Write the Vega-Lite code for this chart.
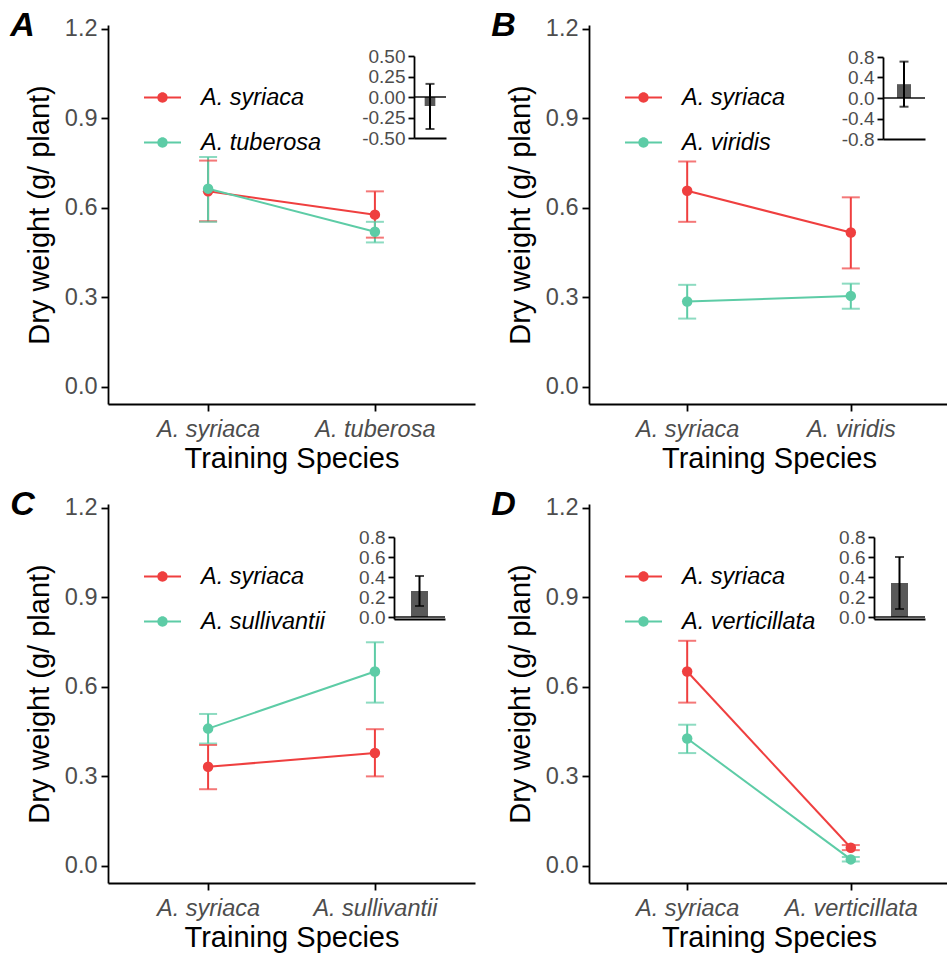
{
  "$schema": "https://vega.github.io/schema/vega-lite/v6.json",
  "background": "white",
  "padding": {"left": 10, "top": 8, "right": 0, "bottom": 0},
  "bounds": "flush",
  "columns": 2,
  "spacing": {"row": 100, "column": 114},
  "resolve": {"scale": {"color": "independent"}, "legend": {"color": "independent"}},
  "config": {
    "font": "Liberation Sans",
    "view": {"stroke": null},
    "axis": {"grid": false, "domainColor": "black", "domainWidth": 1.8, "tickColor": "black", "tickWidth": 1.8, "labelColor": "#4D4D4D", "titleColor": "black", "titleFontWeight": "normal", "labelFont": "Liberation Sans", "titleFont": "Liberation Sans"},
    "title": {"font": "Liberation Sans", "fontSize": 34, "fontWeight": "bold", "fontStyle": "italic", "color": "black", "anchor": "start", "frame": "bounds", "dx": -15, "offset": -26}
  },
  "datasets": {
    "mainA": [
      {"training": "A. syriaca", "species": "A. syriaca", "mean": 0.655, "lo": 0.555, "hi": 0.758},
      {"training": "A. syriaca", "species": "A. tuberosa", "mean": 0.664, "lo": 0.553, "hi": 0.770},
      {"training": "A. tuberosa", "species": "A. syriaca", "mean": 0.577, "lo": 0.500, "hi": 0.655},
      {"training": "A. tuberosa", "species": "A. tuberosa", "mean": 0.520, "lo": 0.484, "hi": 0.553}
    ],
    "mainB": [
      {"training": "A. syriaca", "species": "A. syriaca", "mean": 0.657, "lo": 0.553, "hi": 0.755},
      {"training": "A. syriaca", "species": "A. viridis", "mean": 0.286, "lo": 0.229, "hi": 0.342},
      {"training": "A. viridis", "species": "A. syriaca", "mean": 0.517, "lo": 0.397, "hi": 0.635},
      {"training": "A. viridis", "species": "A. viridis", "mean": 0.305, "lo": 0.262, "hi": 0.346}
    ],
    "mainC": [
      {"training": "A. syriaca", "species": "A. syriaca", "mean": 0.332, "lo": 0.257, "hi": 0.405},
      {"training": "A. syriaca", "species": "A. sullivantii", "mean": 0.460, "lo": 0.410, "hi": 0.509},
      {"training": "A. sullivantii", "species": "A. syriaca", "mean": 0.378, "lo": 0.300, "hi": 0.458},
      {"training": "A. sullivantii", "species": "A. sullivantii", "mean": 0.651, "lo": 0.547, "hi": 0.749}
    ],
    "mainD": [
      {"training": "A. syriaca", "species": "A. syriaca", "mean": 0.651, "lo": 0.547, "hi": 0.754},
      {"training": "A. syriaca", "species": "A. verticillata", "mean": 0.427, "lo": 0.378, "hi": 0.473},
      {"training": "A. verticillata", "species": "A. syriaca", "mean": 0.061, "lo": 0.053, "hi": 0.070},
      {"training": "A. verticillata", "species": "A. verticillata", "mean": 0.022, "lo": 0.015, "hi": 0.030}
    ],
    "insetA": [{"grp": "diff", "diff": -0.11, "lo": -0.39, "hi": 0.16}],
    "insetB": [{"grp": "diff", "diff": 0.27, "lo": -0.17, "hi": 0.71}],
    "insetC": [{"grp": "diff", "diff": 0.26, "lo": 0.11, "hi": 0.41}],
    "insetD": [{"grp": "diff", "diff": 0.34, "lo": 0.08, "hi": 0.60}]
  },
  "concat": [
    {
      "width": 367, "height": 379,
      "title": {"text": "A"},
      "resolve": {"scale": {"x": "independent", "y": "independent"}, "axis": {"x": "independent", "y": "independent"}},
      "layer": [
        {
          "data": {"name": "mainA"},
          "encoding": {
            "x": {"field": "training", "type": "nominal", "scale": {"type": "point", "padding": 0.6, "domain": ["A. syriaca", "A. tuberosa"]},
              "axis": {"orient": "bottom", "title": "Training Species", "labelFontStyle": "italic", "labelFontSize": 23.5, "titleFontSize": 29, "tickSize": 7, "labelPadding": 6, "titlePadding": 4, "labelAngle": 0}},
            "color": {"field": "species", "type": "nominal", "scale": {"domain": ["A. syriaca", "A. tuberosa"], "range": ["#EF3F3F", "#5DCCA6"]},
              "legend": {"title": null, "orient": "none", "legendX": 36, "legendY": 54, "padding": 0, "symbolType": "M-1,-0.055L1,-0.055L1,0.055L-1,0.055ZM0.28,0A0.28,0.28,0,1,1,-0.28,0A0.28,0.28,0,1,1,0.28,0Z", "symbolSize": 1369, "symbolStrokeWidth": 0, "symbolOpacity": 1, "labelFontSize": 23.5, "labelFontStyle": "italic", "labelColor": "black", "labelFont": "Liberation Sans", "labelOffset": 20, "rowPadding": 15}}
          },
          "layer": [
            {"mark": {"type": "rule", "strokeWidth": 2}, "encoding": {"y": {"field": "lo", "type": "quantitative", "scale": {"domain": [-0.057, 1.212], "nice": false, "zero": false},
              "axis": {"orient": "left", "title": "Dry weight (g/ plant)", "values": [0, 0.3, 0.6, 0.9, 1.2], "format": ".1f", "labelFontSize": 23.5, "titleFontSize": 29, "tickSize": 7, "labelPadding": 4, "titlePadding": 10}}, "y2": {"field": "hi"}}},
            {"mark": {"type": "tick", "size": 18, "thickness": 2}, "encoding": {"y": {"field": "lo", "type": "quantitative"}}},
            {"mark": {"type": "tick", "size": 18, "thickness": 2}, "encoding": {"y": {"field": "hi", "type": "quantitative"}}},
            {"mark": {"type": "line", "strokeWidth": 2}, "encoding": {"y": {"field": "mean", "type": "quantitative"}}},
            {"mark": {"type": "point", "filled": true, "size": 110, "opacity": 1}, "encoding": {"y": {"field": "mean", "type": "quantitative"}}}
          ]
        },
        {
          "data": {"name": "insetA"},
          "encoding": {"x": {"field": "grp", "type": "nominal", "scale": {"type": "band", "range": [306, 338], "paddingInner": 0, "paddingOuter": 1},
            "axis": {"orient": "bottom", "offset": -266, "labels": false, "ticks": false, "title": null, "domainWidth": 2}}},
          "layer": [
            {"mark": {"type": "bar", "color": "#595959"}, "encoding": {"y": {"field": "diff", "type": "quantitative", "scale": {"domain": [-0.5, 0.5], "range": [113, 31], "nice": false},
              "axis": {"orient": "left", "offset": -306, "title": null, "values": [-0.5, -0.25, 0, 0.25, 0.5], "labelExpr": "replace(format(datum.value, '.2f'), '\u2212', '-')", "labelFontSize": 19, "tickSize": 6, "labelPadding": 3, "labelOverlap": false}}}},
            {"mark": {"type": "tick", "color": "black", "size": 32, "thickness": 2}, "encoding": {"y": {"datum": 0, "type": "quantitative"}}},
            {"mark": {"type": "rule", "color": "black", "strokeWidth": 2}, "encoding": {"y": {"field": "lo", "type": "quantitative"}, "y2": {"field": "hi"}}},
            {"mark": {"type": "tick", "color": "black", "size": 9, "thickness": 2}, "encoding": {"y": {"field": "lo", "type": "quantitative"}}},
            {"mark": {"type": "tick", "color": "black", "size": 9, "thickness": 2}, "encoding": {"y": {"field": "hi", "type": "quantitative"}}}
          ]
        }
      ]
    },
    {
      "width": 360, "height": 379,
      "title": {"text": "B"},
      "resolve": {"scale": {"x": "independent", "y": "independent"}, "axis": {"x": "independent", "y": "independent"}},
      "layer": [
        {
          "data": {"name": "mainB"},
          "encoding": {
            "x": {"field": "training", "type": "nominal", "scale": {"type": "point", "padding": 0.6, "domain": ["A. syriaca", "A. viridis"]},
              "axis": {"orient": "bottom", "title": "Training Species", "labelFontStyle": "italic", "labelFontSize": 23.5, "titleFontSize": 29, "tickSize": 7, "labelPadding": 6, "titlePadding": 4, "labelAngle": 0}},
            "color": {"field": "species", "type": "nominal", "scale": {"domain": ["A. syriaca", "A. viridis"], "range": ["#EF3F3F", "#5DCCA6"]},
              "legend": {"title": null, "orient": "none", "legendX": 36, "legendY": 54, "padding": 0, "symbolType": "M-1,-0.055L1,-0.055L1,0.055L-1,0.055ZM0.28,0A0.28,0.28,0,1,1,-0.28,0A0.28,0.28,0,1,1,0.28,0Z", "symbolSize": 1369, "symbolStrokeWidth": 0, "symbolOpacity": 1, "labelFontSize": 23.5, "labelFontStyle": "italic", "labelColor": "black", "labelFont": "Liberation Sans", "labelOffset": 20, "rowPadding": 15}}
          },
          "layer": [
            {"mark": {"type": "rule", "strokeWidth": 2}, "encoding": {"y": {"field": "lo", "type": "quantitative", "scale": {"domain": [-0.057, 1.212], "nice": false, "zero": false},
              "axis": {"orient": "left", "title": "Dry weight (g/ plant)", "values": [0, 0.3, 0.6, 0.9, 1.2], "format": ".1f", "labelFontSize": 23.5, "titleFontSize": 29, "tickSize": 7, "labelPadding": 4, "titlePadding": 10}}, "y2": {"field": "hi"}}},
            {"mark": {"type": "tick", "size": 18, "thickness": 2}, "encoding": {"y": {"field": "lo", "type": "quantitative"}}},
            {"mark": {"type": "tick", "size": 18, "thickness": 2}, "encoding": {"y": {"field": "hi", "type": "quantitative"}}},
            {"mark": {"type": "line", "strokeWidth": 2}, "encoding": {"y": {"field": "mean", "type": "quantitative"}}},
            {"mark": {"type": "point", "filled": true, "size": 110, "opacity": 1}, "encoding": {"y": {"field": "mean", "type": "quantitative"}}}
          ]
        },
        {
          "data": {"name": "insetB"},
          "encoding": {"x": {"field": "grp", "type": "nominal", "scale": {"type": "band", "range": [294, 336], "paddingInner": 0, "paddingOuter": 1},
            "axis": {"orient": "bottom", "offset": -265, "labels": false, "ticks": false, "title": null, "domainWidth": 2}}},
          "layer": [
            {"mark": {"type": "bar", "color": "#595959"}, "encoding": {"y": {"field": "diff", "type": "quantitative", "scale": {"domain": [-0.8, 0.8], "range": [114, 32], "nice": false},
              "axis": {"orient": "left", "offset": -294, "title": null, "values": [-0.8, -0.4, 0, 0.4, 0.8], "labelExpr": "replace(format(datum.value, '.1f'), '\u2212', '-')", "labelFontSize": 19, "tickSize": 6, "labelPadding": 3, "labelOverlap": false}}}},
            {"mark": {"type": "tick", "color": "black", "size": 42, "thickness": 2}, "encoding": {"y": {"datum": 0, "type": "quantitative"}}},
            {"mark": {"type": "rule", "color": "black", "strokeWidth": 2}, "encoding": {"y": {"field": "lo", "type": "quantitative"}, "y2": {"field": "hi"}}},
            {"mark": {"type": "tick", "color": "black", "size": 9, "thickness": 2}, "encoding": {"y": {"field": "lo", "type": "quantitative"}}},
            {"mark": {"type": "tick", "color": "black", "size": 9, "thickness": 2}, "encoding": {"y": {"field": "hi", "type": "quantitative"}}}
          ]
        }
      ]
    },
    {
      "width": 367, "height": 379,
      "title": {"text": "C"},
      "resolve": {"scale": {"x": "independent", "y": "independent"}, "axis": {"x": "independent", "y": "independent"}},
      "layer": [
        {
          "data": {"name": "mainC"},
          "encoding": {
            "x": {"field": "training", "type": "nominal", "scale": {"type": "point", "padding": 0.6, "domain": ["A. syriaca", "A. sullivantii"]},
              "axis": {"orient": "bottom", "title": "Training Species", "labelFontStyle": "italic", "labelFontSize": 23.5, "titleFontSize": 29, "tickSize": 7, "labelPadding": 6, "titlePadding": 4, "labelAngle": 0}},
            "color": {"field": "species", "type": "nominal", "scale": {"domain": ["A. syriaca", "A. sullivantii"], "range": ["#EF3F3F", "#5DCCA6"]},
              "legend": {"title": null, "orient": "none", "legendX": 36, "legendY": 54, "padding": 0, "symbolType": "M-1,-0.055L1,-0.055L1,0.055L-1,0.055ZM0.28,0A0.28,0.28,0,1,1,-0.28,0A0.28,0.28,0,1,1,0.28,0Z", "symbolSize": 1369, "symbolStrokeWidth": 0, "symbolOpacity": 1, "labelFontSize": 23.5, "labelFontStyle": "italic", "labelColor": "black", "labelFont": "Liberation Sans", "labelOffset": 20, "rowPadding": 15}}
          },
          "layer": [
            {"mark": {"type": "rule", "strokeWidth": 2}, "encoding": {"y": {"field": "lo", "type": "quantitative", "scale": {"domain": [-0.057, 1.212], "nice": false, "zero": false},
              "axis": {"orient": "left", "title": "Dry weight (g/ plant)", "values": [0, 0.3, 0.6, 0.9, 1.2], "format": ".1f", "labelFontSize": 23.5, "titleFontSize": 29, "tickSize": 7, "labelPadding": 4, "titlePadding": 10}}, "y2": {"field": "hi"}}},
            {"mark": {"type": "tick", "size": 18, "thickness": 2}, "encoding": {"y": {"field": "lo", "type": "quantitative"}}},
            {"mark": {"type": "tick", "size": 18, "thickness": 2}, "encoding": {"y": {"field": "hi", "type": "quantitative"}}},
            {"mark": {"type": "line", "strokeWidth": 2}, "encoding": {"y": {"field": "mean", "type": "quantitative"}}},
            {"mark": {"type": "point", "filled": true, "size": 110, "opacity": 1}, "encoding": {"y": {"field": "mean", "type": "quantitative"}}}
          ]
        },
        {
          "data": {"name": "insetC"},
          "encoding": {"x": {"field": "grp", "type": "nominal", "scale": {"type": "band", "range": [286, 337], "paddingInner": 0, "paddingOuter": 1},
            "axis": {"orient": "bottom", "offset": -264, "labels": false, "ticks": false, "title": null, "domainWidth": 2}}},
          "layer": [
            {"mark": {"type": "bar", "color": "#595959"}, "encoding": {"y": {"field": "diff", "type": "quantitative", "scale": {"domain": [-0.02, 0.8], "range": [115, 33], "nice": false, "zero": false},
              "axis": {"orient": "left", "offset": -286, "title": null, "values": [0, 0.2, 0.4, 0.6, 0.8], "format": ".1f", "labelFontSize": 19, "tickSize": 6, "labelPadding": 3, "labelOverlap": false}}}},
            {"mark": {"type": "tick", "color": "black", "size": 51, "thickness": 2}, "encoding": {"y": {"datum": 0, "type": "quantitative"}}},
            {"mark": {"type": "rule", "color": "black", "strokeWidth": 2}, "encoding": {"y": {"field": "lo", "type": "quantitative"}, "y2": {"field": "hi"}}},
            {"mark": {"type": "tick", "color": "black", "size": 9, "thickness": 2}, "encoding": {"y": {"field": "lo", "type": "quantitative"}}},
            {"mark": {"type": "tick", "color": "black", "size": 9, "thickness": 2}, "encoding": {"y": {"field": "hi", "type": "quantitative"}}}
          ]
        }
      ]
    },
    {
      "width": 360, "height": 379,
      "title": {"text": "D"},
      "resolve": {"scale": {"x": "independent", "y": "independent"}, "axis": {"x": "independent", "y": "independent"}},
      "layer": [
        {
          "data": {"name": "mainD"},
          "encoding": {
            "x": {"field": "training", "type": "nominal", "scale": {"type": "point", "padding": 0.6, "domain": ["A. syriaca", "A. verticillata"]},
              "axis": {"orient": "bottom", "title": "Training Species", "labelFontStyle": "italic", "labelFontSize": 23.5, "titleFontSize": 29, "tickSize": 7, "labelPadding": 6, "titlePadding": 4, "labelAngle": 0}},
            "color": {"field": "species", "type": "nominal", "scale": {"domain": ["A. syriaca", "A. verticillata"], "range": ["#EF3F3F", "#5DCCA6"]},
              "legend": {"title": null, "orient": "none", "legendX": 36, "legendY": 54, "padding": 0, "symbolType": "M-1,-0.055L1,-0.055L1,0.055L-1,0.055ZM0.28,0A0.28,0.28,0,1,1,-0.28,0A0.28,0.28,0,1,1,0.28,0Z", "symbolSize": 1369, "symbolStrokeWidth": 0, "symbolOpacity": 1, "labelFontSize": 23.5, "labelFontStyle": "italic", "labelColor": "black", "labelFont": "Liberation Sans", "labelOffset": 20, "rowPadding": 15}}
          },
          "layer": [
            {"mark": {"type": "rule", "strokeWidth": 2}, "encoding": {"y": {"field": "lo", "type": "quantitative", "scale": {"domain": [-0.057, 1.212], "nice": false, "zero": false},
              "axis": {"orient": "left", "title": "Dry weight (g/ plant)", "values": [0, 0.3, 0.6, 0.9, 1.2], "format": ".1f", "labelFontSize": 23.5, "titleFontSize": 29, "tickSize": 7, "labelPadding": 4, "titlePadding": 10}}, "y2": {"field": "hi"}}},
            {"mark": {"type": "tick", "size": 18, "thickness": 2}, "encoding": {"y": {"field": "lo", "type": "quantitative"}}},
            {"mark": {"type": "tick", "size": 18, "thickness": 2}, "encoding": {"y": {"field": "hi", "type": "quantitative"}}},
            {"mark": {"type": "line", "strokeWidth": 2}, "encoding": {"y": {"field": "mean", "type": "quantitative"}}},
            {"mark": {"type": "point", "filled": true, "size": 110, "opacity": 1}, "encoding": {"y": {"field": "mean", "type": "quantitative"}}}
          ]
        },
        {
          "data": {"name": "insetD"},
          "encoding": {"x": {"field": "grp", "type": "nominal", "scale": {"type": "band", "range": [285, 336], "paddingInner": 0, "paddingOuter": 1},
            "axis": {"orient": "bottom", "offset": -264, "labels": false, "ticks": false, "title": null, "domainWidth": 2}}},
          "layer": [
            {"mark": {"type": "bar", "color": "#595959"}, "encoding": {"y": {"field": "diff", "type": "quantitative", "scale": {"domain": [-0.02, 0.8], "range": [115, 33], "nice": false, "zero": false},
              "axis": {"orient": "left", "offset": -285, "title": null, "values": [0, 0.2, 0.4, 0.6, 0.8], "format": ".1f", "labelFontSize": 19, "tickSize": 6, "labelPadding": 3, "labelOverlap": false}}}},
            {"mark": {"type": "tick", "color": "black", "size": 51, "thickness": 2}, "encoding": {"y": {"datum": 0, "type": "quantitative"}}},
            {"mark": {"type": "rule", "color": "black", "strokeWidth": 2}, "encoding": {"y": {"field": "lo", "type": "quantitative"}, "y2": {"field": "hi"}}},
            {"mark": {"type": "tick", "color": "black", "size": 9, "thickness": 2}, "encoding": {"y": {"field": "lo", "type": "quantitative"}}},
            {"mark": {"type": "tick", "color": "black", "size": 9, "thickness": 2}, "encoding": {"y": {"field": "hi", "type": "quantitative"}}}
          ]
        }
      ]
    }
  ]
}
